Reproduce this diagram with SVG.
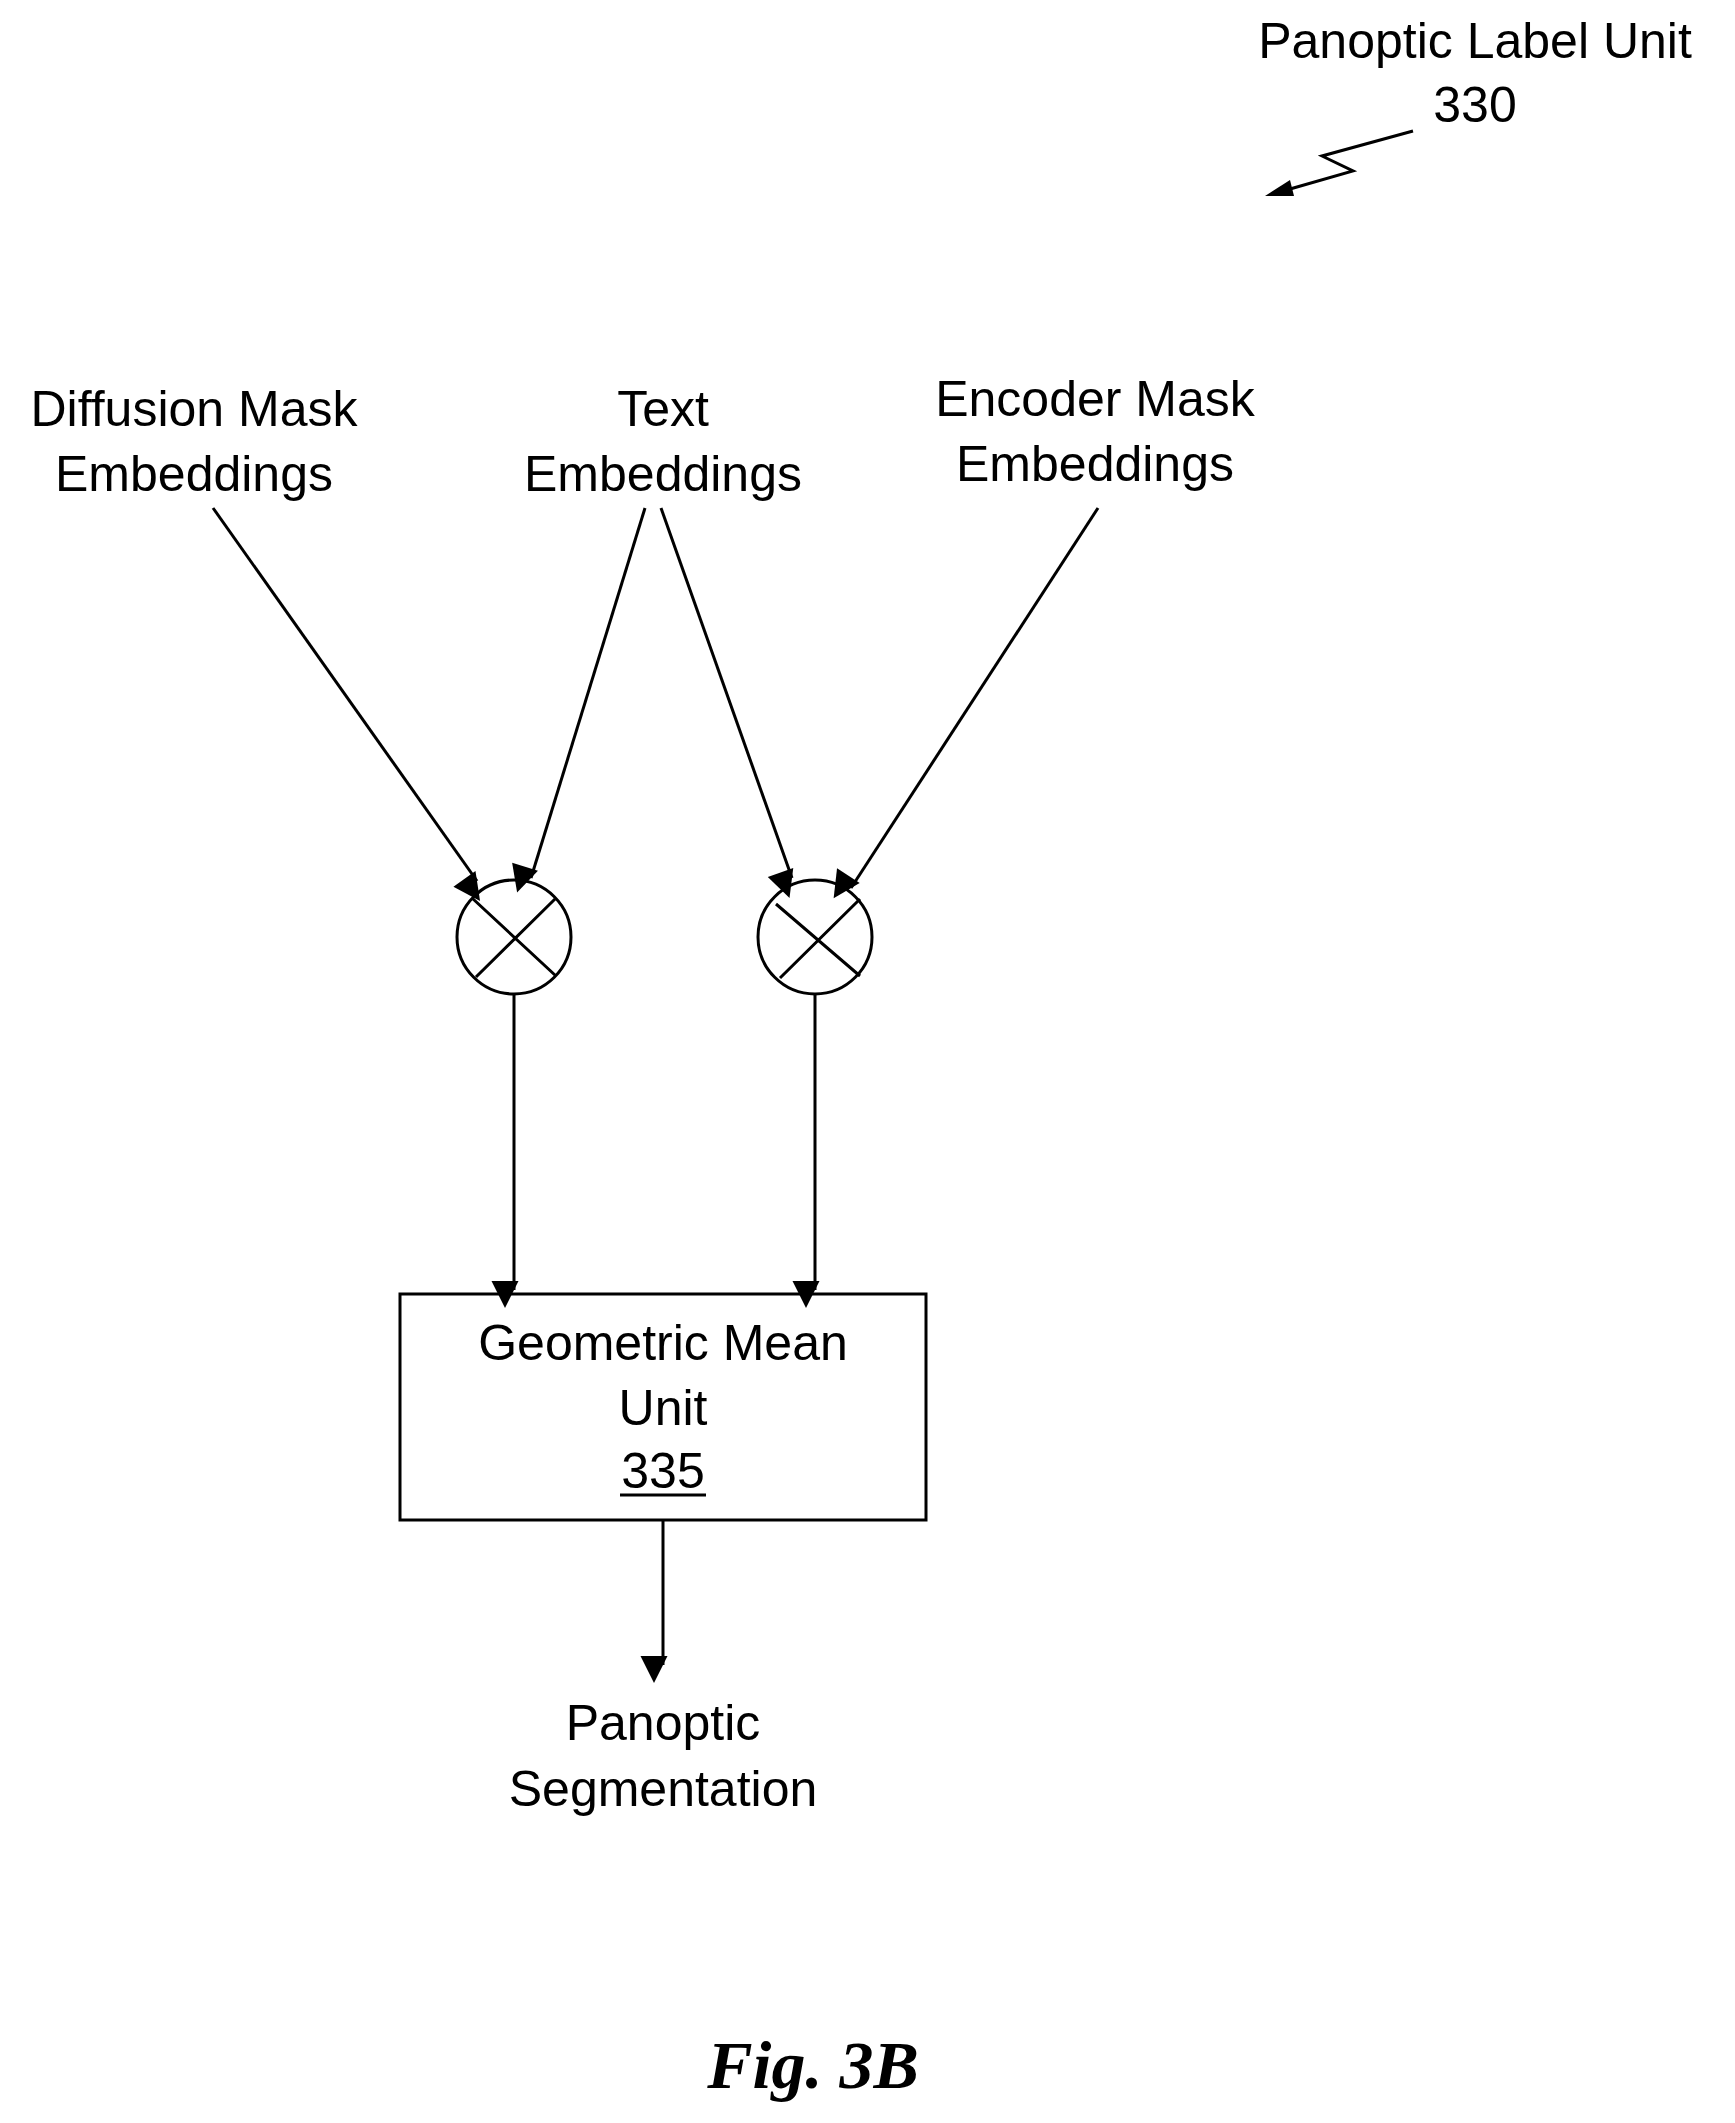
<svg xmlns="http://www.w3.org/2000/svg" width="1735" height="2123" viewBox="0 0 1735 2123">
<style>
text{font-family:"Liberation Sans",Arial,sans-serif;font-size:50px;fill:#000;text-anchor:middle}
.ln{stroke:#000;stroke-width:3;fill:none}
.fig{font-family:"Liberation Serif","Times New Roman",serif;font-weight:bold;font-style:italic;font-size:68px}
</style>
<defs>
<marker id="ah" viewBox="0 0 10 10" refX="10" refY="5" markerWidth="9" markerHeight="9" markerUnits="userSpaceOnUse" orient="auto" overflow="visible">
<path d="M0,0 L10,5 L0,10 z" fill="#000" transform="scale(3)"/>
</marker>
</defs>
<rect width="1735" height="2123" fill="#fff"/>
<g id="label330">
<text x="1475" y="58">Panoptic Label Unit</text>
<text x="1475" y="122">330</text>
<path class="ln" d="M1413,131 L1322,156 L1353,171 L1290,189"/>
<path d="M1265,196 L1290,180 L1294,196 z" fill="#000"/>
</g>
<g id="diffusion"><text x="194" y="426">Diffusion Mask</text><text x="194" y="491">Embeddings</text></g>
<g id="textemb"><text x="663" y="426">Text</text><text x="663" y="491">Embeddings</text></g>
<g id="encoder"><text x="1095" y="416">Encoder Mask</text><text x="1095" y="481">Embeddings</text></g>
<g id="mult1"><circle class="ln" cx="514" cy="937" r="57"/><path class="ln" d="M472,898 L556,976 M476,977 L555,899"/></g>
<g id="mult2"><circle class="ln" cx="815" cy="937" r="57"/><path class="ln" d="M776,904 L860,976 M780,978 L860,899"/></g>
<g id="gmu">
<rect class="ln" x="400" y="1294" width="526" height="226"/>
<text x="663" y="1360">Geometric Mean</text>
<text x="663" y="1425">Unit</text>
<text x="663" y="1488">335</text>
<line class="ln" x1="620" y1="1495" x2="706" y2="1495"/>
</g>
<g id="output"><text x="663" y="1740">Panoptic</text><text x="663" y="1806">Segmentation</text></g>
<g id="connectors">
<line class="ln" x1="213" y1="508" x2="477" y2="881" marker-end="url(#ah)"/>
<line class="ln" x1="645" y1="508" x2="531" y2="878" marker-end="url(#ah)"/>
<line class="ln" x1="661" y1="508" x2="792" y2="878" marker-end="url(#ah)"/>
<line class="ln" x1="1098" y1="508" x2="851" y2="888" marker-end="url(#ah)"/>
<line class="ln" x1="514" y1="994" x2="514" y2="1290" marker-end="url(#ah)"/>
<line class="ln" x1="815" y1="994" x2="815" y2="1290" marker-end="url(#ah)"/>
<line class="ln" x1="663" y1="1520" x2="663" y2="1665" marker-end="url(#ah)"/>
</g>
<text class="fig" x="813" y="2088">Fig. 3B</text>
</svg>
